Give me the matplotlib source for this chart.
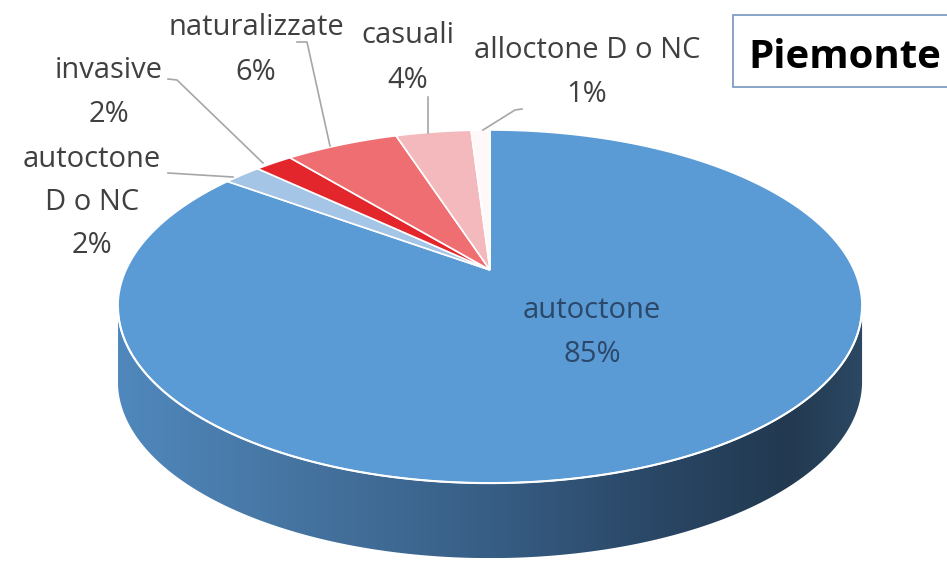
import numpy as np
import matplotlib.pyplot as plt
from matplotlib.patches import Polygon, Rectangle
from matplotlib.colors import LinearSegmentedColormap

# data
categories = ['autoctone', 'autoctone\nD o NC', 'invasive', 'naturalizzate', 'casuali', 'alloctone D o NC']
values = [85, 2, 2, 6, 4, 1]
colors = ['#5b9bd5', '#a5c5e6', '#e3262c', '#ee6e72', '#f4b9bc', '#fef8f8']

W, H = 947, 565
fig = plt.figure(figsize=(W / 100, H / 100), dpi=100)
ax = fig.add_axes([0, 0, 1, 1])
ax.set_xlim(0, W)
ax.set_ylim(H, 0)
ax.axis('off')

# 3d pie geometry (pixel space): apex, radii, perspective, thickness
cx, cy = 490, 270
B, A, k = 364, 169, 0.207
depth = 75


def project(theta):
    u, v = np.cos(theta), np.sin(theta)
    d = 1 + k * v
    return cx + B * u / d, cy - A * v / d


# side wall (front half, all inside the big slice)
t0 = np.pi + np.arcsin(k)
t1 = 2 * np.pi - np.arcsin(k)
ts = np.linspace(t0, t1, 300)
xs, ys = project(ts)
side_x = np.concatenate([xs, xs[::-1]])
side_y = np.concatenate([ys, ys[::-1] + depth])
side = Polygon(np.column_stack([side_x, side_y]), closed=True, facecolor='none', edgecolor='none')
ax.add_patch(side)
grad = LinearSegmentedColormap.from_list('side', [
    (0.0, '#5088bd'), (0.25, '#45739f'), (0.5, '#375e85'),
    (0.72, '#2a4766'), (0.9, '#223950'), (1.0, '#2c4863')])
img = ax.imshow(np.linspace(0, 1, 256)[None, :], cmap=grad, aspect='auto',
                extent=(xs.min(), xs.max(), ys.max() + depth, ys.min()), zorder=1)
img.set_clip_path(side)

# top slices, clockwise from 12 o'clock
total = sum(values)
start = 90.0
for val, col in zip(values, colors):
    end = start - 360.0 * val / total
    th = np.radians(np.linspace(start, end, 200))
    px, py = project(th)
    pts = np.column_stack([np.r_[cx, px], np.r_[cy, py]])
    ax.add_patch(Polygon(pts, closed=True, facecolor=col, edgecolor='white', lw=1.2, zorder=2))
    start = end

# white rim along front edge
ax.plot(xs, ys, color='white', lw=1.5, zorder=3)

# labels
font = 'Open Sans'
tc = '#404040'
lab_pos = [(592, 318), (92, 167), (109, 78), (256, 35), (408, 43), (587, 58)]
step = [44, 43, 44, 45, 45, 44]
for i, (name, val) in enumerate(zip(categories, values)):
    lines = name.split('\n') + [f'{val}%']
    x0, y0 = lab_pos[i]
    c = '#2b4769' if i == 0 else tc
    for j, ln in enumerate(lines):
        ax.text(x0, y0 + j * step[i], ln, ha='center', va='baseline',
                fontsize=21, family=font, color=c, zorder=5)

# leader lines
lc = '#a6a6a6'
ax.plot([168, 177, 263], [79, 80, 163], color=lc, lw=1.2, zorder=4)
ax.plot([168, 233], [173, 177], color=lc, lw=1.2, zorder=4)
ax.plot([297, 307, 330], [42, 42, 146], color=lc, lw=1.2, zorder=4)
ax.plot([428, 428], [97, 133], color=lc, lw=1.2, zorder=4)
ax.plot([522, 515, 483], [109, 110, 130], color=lc, lw=1.2, zorder=4)

# title box
ax.add_patch(Rectangle((733, 15), 240, 72, facecolor='white', edgecolor='#7f9dc0', lw=1.3, zorder=4))
ax.text(845, 68, 'Piemonte', ha='center', va='baseline', fontsize=29,
        fontweight='bold', family=font, color='black', zorder=5)

plt.savefig('out.png', dpi=100)
